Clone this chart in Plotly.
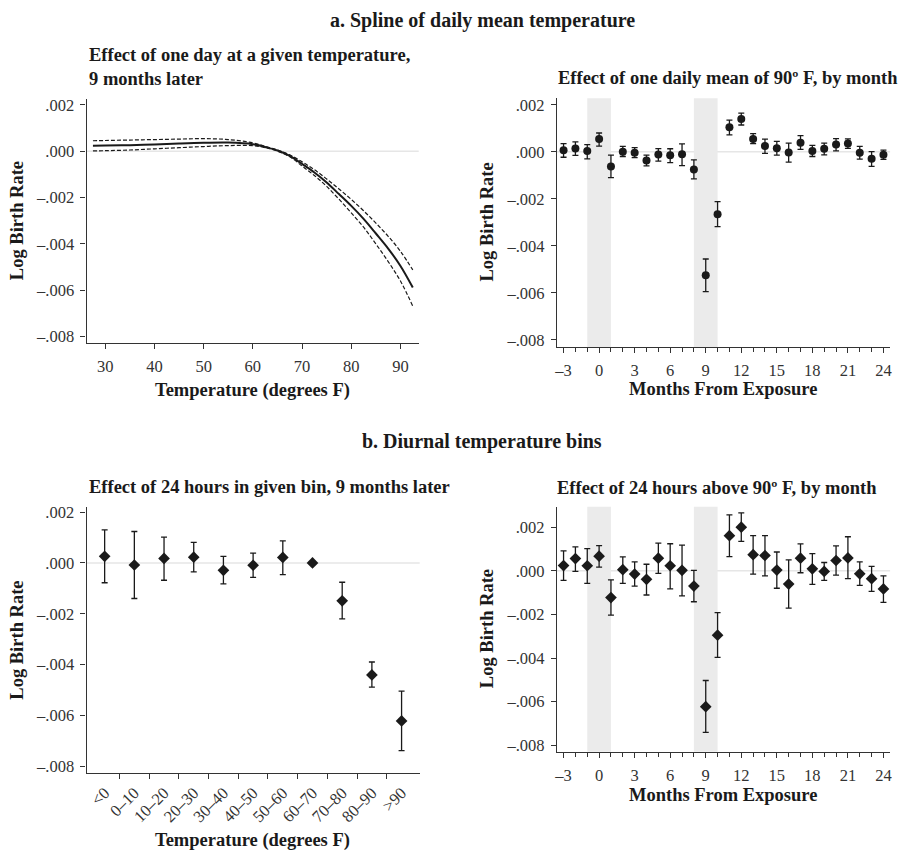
import plotly.graph_objects as go

# ---- Panel a (left): spline of daily mean temperature, 9 months later ----
spline_temp = [27.5, 30, 35, 40, 45, 50, 55, 60, 62.5, 65, 67.5, 70, 72.5, 75,
               77.5, 80, 82.5, 85, 87.5, 90, 92.5]
spline_est = [0.00023, 0.00024, 0.00026, 0.00029, 0.00033, 0.00036, 0.00037, 0.00030,
              0.00018, 0.00003, -0.00020, -0.00055, -0.00092, -0.00135, -0.00185,
              -0.00236, -0.00292, -0.00355, -0.00420, -0.00495, -0.00588]
spline_hi = [0.00045, 0.00046, 0.00048, 0.00050, 0.00052, 0.00054, 0.00050, 0.00036,
             0.00021, 0.00005, -0.00016, -0.00046, -0.00080, -0.00120, -0.00163,
             -0.00208, -0.00257, -0.00310, -0.00367, -0.00432, -0.00512]
spline_lo = [0.00001, 0.00002, 0.00005, 0.00010, 0.00015, 0.00020, 0.00024, 0.00024,
             0.00015, 0.00000, -0.00024, -0.00064, -0.00105, -0.00152, -0.00207,
             -0.00266, -0.00328, -0.00400, -0.00476, -0.00560, -0.00668]

# ---- Months relative to exposure (shared by the two right-hand panels) ----
months = list(range(-3, 25))

# Panel a (right): one daily mean of 90 F, by month
mean_est = [0.00007, 0.00014, 0.00003, 0.00054, -0.00062, 0.00000, -0.00004, -0.00037,
            -0.00011, -0.00015, -0.00010, -0.00075, -0.00525, -0.00266, 0.00105, 0.00140,
            0.00055, 0.00025, 0.00015, -0.00003, 0.00039, 0.00003, 0.00013, 0.00031,
            0.00035, -0.00004, -0.00030, -0.00013]
mean_hi = [0.00035, 0.00042, 0.00031, 0.00080, -0.00014, 0.00023, 0.00018, -0.00014,
           0.00014, 0.00013, 0.00034, -0.00034, -0.00456, -0.00212, 0.00135, 0.00165,
           0.00077, 0.00054, 0.00044, 0.00037, 0.00069, 0.00027, 0.00037, 0.00056,
           0.00055, 0.00023, 0.00001, 0.00007]
mean_lo = [-0.00023, -0.00015, -0.00030, 0.00024, -0.00110, -0.00020, -0.00025, -0.00060,
           -0.00040, -0.00046, -0.00059, -0.00115, -0.00595, -0.00318, 0.00072, 0.00114,
           0.00035, -0.00007, -0.00014, -0.00044, 0.00010, -0.00020, -0.00013, 0.00004,
           0.00015, -0.00031, -0.00062, -0.00032]

# ---- Panel b (left): 24 hours in a given temperature bin ----
bins = ["<0", "0\u201310", "10\u201320", "20\u201330", "30\u201340", "40\u201350",
        "50\u201360", "60\u201370", "70\u201380", "80\u201390", ">90"]
bin_est = [0.00026, -0.00008, 0.00018, 0.00023, -0.00029, -0.00009, 0.00022, 0.0,
           -0.00149, -0.00441, -0.00622]
bin_hi = [0.00130, 0.00124, 0.00102, 0.00081, 0.00026, 0.00039, 0.00087, 0.0,
          -0.00076, -0.00390, -0.00505]
bin_lo = [-0.00078, -0.00140, -0.00068, -0.00035, -0.00082, -0.00057, -0.00046, 0.0,
          -0.00220, -0.00489, -0.00739]

# Panel b (right): 24 hours above 90 F, by month
hot_est = [0.00024, 0.00056, 0.00023, 0.00067, -0.00123, 0.00005, -0.00015, -0.00039,
           0.00058, 0.00023, 0.00002, -0.00070, -0.00623, -0.00295, 0.00161, 0.00200,
           0.00074, 0.00070, 0.00003, -0.00061, 0.00058, 0.00009, -0.00003, 0.00047,
           0.00059, -0.00014, -0.00036, -0.00083]
hot_hi = [0.00091, 0.00110, 0.00102, 0.00115, -0.00042, 0.00064, 0.00041, 0.00030,
          0.00127, 0.00124, 0.00118, 0.00002, -0.00503, -0.00192, 0.00256, 0.00265,
          0.00161, 0.00161, 0.00086, 0.00050, 0.00123, 0.00079, 0.00038, 0.00114,
          0.00156, 0.00041, 0.00020, -0.00023]
hot_lo = [-0.00044, -0.00003, -0.00058, 0.00017, -0.00203, -0.00058, -0.00070, -0.00111,
          -0.00012, -0.00083, -0.00115, -0.00142, -0.00741, -0.00397, 0.00065, 0.00135,
          -0.00015, -0.00023, -0.00080, -0.00171, -0.00009, -0.00062, -0.00044, -0.00020,
          -0.00036, -0.00067, -0.00094, -0.00145]

# Shaded month windows (conception-period highlight)
shade_windows = [(-1, 1), (8, 10)]

y_ticks = [0.002, 0.0, -0.002, -0.004, -0.006, -0.008]
y_ticktext = [".002", ".000", "\u2013.002", "\u2013.004", "\u2013.006", "\u2013.008"]
month_ticks = list(range(-3, 25, 3))
month_ticktext = [("\u2013" + str(-m)) if m < 0 else str(m) for m in month_ticks]

W, H = 907, 857
FONT = "Liberation Serif"
INK = "#1a1a1a"
AXIS = "#333333"
TITLE_SIZE = 20
LABEL_SIZE = 18.5
TICK_SIZE = 16.5


def px(x):
    return x / W


def py(y):
    return 1 - y / H


def err(est, hi, lo):
    return ([h - e for h, e in zip(hi, est)], [e - l for e, l in zip(est, lo)])


fig = go.Figure()

# Spline estimate with confidence bounds
for bound in (spline_hi, spline_lo):
    fig.add_trace(go.Scatter(x=spline_temp, y=bound, mode="lines", line_shape="spline",
                             line=dict(color=INK, width=1.2, dash="4px,2px"),
                             xaxis="x", yaxis="y", showlegend=False))
fig.add_trace(go.Scatter(x=spline_temp, y=spline_est, mode="lines", line_shape="spline",
                         line=dict(color=INK, width=2),
                         xaxis="x", yaxis="y", showlegend=False))

# Monthly effect of a 90 F daily mean
up, dn = err(mean_est, mean_hi, mean_lo)
fig.add_trace(go.Scatter(x=months, y=mean_est, mode="markers",
                         marker=dict(symbol="circle", size=8, color=INK),
                         error_y=dict(type="data", array=up, arrayminus=dn, symmetric=False,
                                      color=INK, thickness=1.3, width=3),
                         xaxis="x2", yaxis="y2", showlegend=False))

# Temperature-bin effects
bin_pos = list(range(len(bins)))
up, dn = err(bin_est, bin_hi, bin_lo)
fig.add_trace(go.Scatter(x=bin_pos, y=bin_est, mode="markers",
                         marker=dict(symbol="diamond", size=9, color=INK),
                         error_y=dict(type="data", array=up, arrayminus=dn, symmetric=False,
                                      color=INK, thickness=1.3, width=3),
                         xaxis="x3", yaxis="y3", showlegend=False))

# Monthly effect of 24 hours above 90 F
up, dn = err(hot_est, hot_hi, hot_lo)
fig.add_trace(go.Scatter(x=months, y=hot_est, mode="markers",
                         marker=dict(symbol="diamond", size=9, color=INK),
                         error_y=dict(type="data", array=up, arrayminus=dn, symmetric=False,
                                      color=INK, thickness=1.3, width=3),
                         xaxis="x4", yaxis="y4", showlegend=False))

# Panel frames (pixel boxes: left, right, top, bottom)
boxes = {
    1: (84, 418, 96, 342),
    2: (557, 892, 95, 346),
    3: (84, 419, 507, 775),
    4: (557, 892, 507, 754),
}
y_ranges = {1: [-0.00828, 0.00224], 2: [-0.00831, 0.00228],
            3: [-0.00826, 0.00221], 4: [-0.0083, 0.00293]}
x_ranges = {1: [26.2, 93.7], 2: [-3.56, 24.56], 3: [-0.61, 10.61], 4: [-3.56, 24.56]}

tickfont = dict(family=FONT, size=TICK_SIZE, color="#333333")
common_axis = dict(showline=True, linecolor=AXIS, linewidth=1.2, showgrid=False,
                   zeroline=False, ticks="outside", ticklen=5, tickwidth=1.1,
                   tickcolor=AXIS, tickfont=tickfont)

layout_axes = {}
for k, (l, r, t, b) in boxes.items():
    xname = "xaxis" if k == 1 else f"xaxis{k}"
    yname = "yaxis" if k == 1 else f"yaxis{k}"
    ya = dict(common_axis, domain=[py(b), py(t)], range=y_ranges[k],
              anchor="x" if k == 1 else f"x{k}", tickvals=y_ticks, ticktext=y_ticktext,
              ticklabelstandoff=3)
    xa = dict(common_axis, domain=[px(l), px(r)], range=x_ranges[k],
              anchor="y" if k == 1 else f"y{k}", ticklabelstandoff=3)
    if k == 1:
        xa.update(tickvals=[30, 40, 50, 60, 70, 80, 90])
    elif k == 3:
        xa.update(tickvals=bin_pos, ticktext=bins, ticks="", tickangle=-45,
                  minor=dict(tickvals=[i + 0.5 for i in bin_pos[:-1]], ticks="outside",
                             ticklen=5, tickcolor=AXIS, tickwidth=1.1))
    else:
        xa.update(tickvals=month_ticks, ticktext=month_ticktext,
                  minor=dict(dtick=1, tick0=0, ticks="outside", ticklen=4,
                             tickcolor=AXIS, tickwidth=1.1))
    layout_axes[xname] = xa
    layout_axes[yname] = ya

shapes = []
# Zero reference lines
for k in boxes:
    xr = "x" if k == 1 else f"x{k}"
    yr = "y" if k == 1 else f"y{k}"
    shapes.append(dict(type="line", xref=f"{xr} domain", yref=yr, x0=0, x1=1, y0=0, y1=0,
                       line=dict(color="#e6e6e6", width=1.5), layer="below"))
# Shaded month windows on the by-month panels
for k in (2, 4):
    for a, b in shade_windows:
        shapes.append(dict(type="rect", xref=f"x{k}", yref=f"y{k} domain", x0=a, x1=b,
                           y0=0, y1=1, fillcolor="#ebebeb", line=dict(width=0),
                           layer="below"))


def ann(text, x, y, size=LABEL_SIZE, bold=True, xanchor="center", angle=0, align="center"):
    return dict(text=f"<b>{text}</b>" if bold else text, x=px(x), y=py(y),
                xref="paper", yref="paper", xanchor=xanchor, yanchor="middle",
                showarrow=False, textangle=angle, align=align,
                font=dict(family=FONT, size=size, color=INK))


annotations = [
    ann("a. Spline of daily mean temperature", 482, 17, size=TITLE_SIZE),
    ann("Effect of one day at a given temperature,<br>9 months later", 84, 64,
        xanchor="left", align="left"),
    ann("Effect of one daily mean of 90º F, by month", 556, 75, xanchor="left"),
    ann("b. Diurnal temperature bins", 482, 441, size=TITLE_SIZE),
    ann("Effect of 24 hours in given bin, 9 months later", 84, 487, xanchor="left"),
    ann("Effect of 24 hours above 90º F, by month", 555, 488, xanchor="left"),
    ann("Temperature (degrees F)", 251, 390),
    ann("Months From Exposure", 724, 388),
    ann("Temperature (degrees F)", 251, 843),
    ann("Months From Exposure", 724, 798),
    ann("Log Birth Rate", 14, 218, angle=-90),
    ann("Log Birth Rate", 487, 220, angle=-90),
    ann("Log Birth Rate", 14, 641, angle=-90),
    ann("Log Birth Rate", 487, 630, angle=-90),
]

fig.update_layout(
    width=W, height=H,
    margin=dict(l=0, r=0, t=0, b=0),
    paper_bgcolor="white", plot_bgcolor="white",
    shapes=shapes, annotations=annotations,
    font=dict(family=FONT, color=INK),
    **layout_axes,
)

fig.write_html("out.html")
